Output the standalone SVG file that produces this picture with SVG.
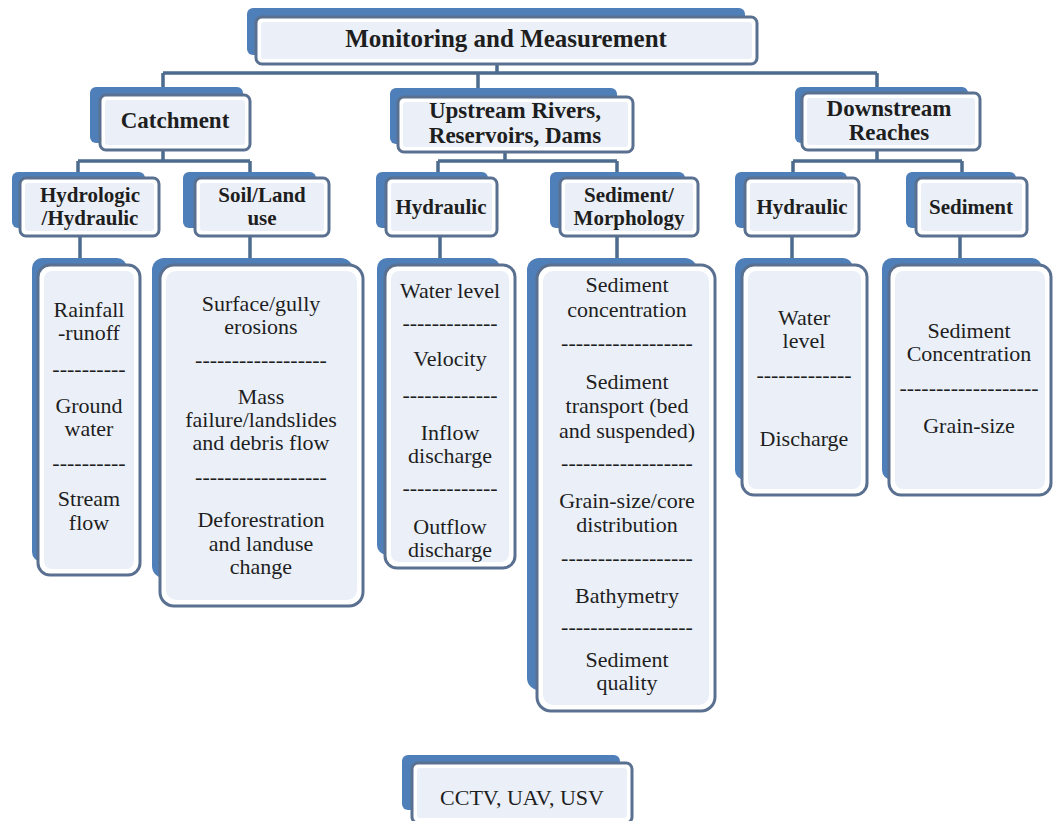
<svg xmlns="http://www.w3.org/2000/svg" width="1054" height="821" viewBox="0 0 1054 821" font-family="'Liberation Serif', 'DejaVu Serif', serif">
<style>
.bk{fill:#4f7fb8}
.fr{fill:#ffffff;stroke:#5a7090;stroke-width:3}
.in{fill:#ebf0f8}
.c{fill:none;stroke:#4c6b8f;stroke-width:3.5}
text{font-family:'Liberation Serif', 'DejaVu Serif', serif;fill:#1e1e1e;text-anchor:middle}
.t1{font-size:25px;font-weight:bold}
.t2{font-size:23px;font-weight:bold}
.t3{font-size:21px;font-weight:bold}
.b{font-size:22px}
</style>
<rect width="1054" height="821" fill="#ffffff"/>
<g id="connectors">
<path class="c" d="M497 64V73M163 73H877M163 73V87M478 73V88M877 73V87"/>
<path class="c" d="M163 150V161M78 161H250M78 161V172M250 161V172"/>
<path class="c" d="M505 152V161M438 161H617M438 161V172M617 161V172"/>
<path class="c" d="M877 150V161M793 161H962M793 161V172M962 161V172"/>
<path class="c" d="M80 236V258M250 236V258M440 236V258M617 236V258M792 236V258M960 236V258"/>
</g>
<g id="title">
<rect class="bk" x="247" y="8" width="498" height="47" rx="6"/>
<rect class="fr" x="256" y="17" width="501" height="47" rx="6"/>
<rect class="in" x="261" y="22" width="491" height="37" rx="3"/>
<text class="t1" x="506" y="47">Monitoring and Measurement</text>
</g>
<g id="catchment">
<rect class="bk" x="90" y="87" width="153" height="56" rx="6"/>
<rect class="fr" x="100" y="95" width="150" height="55" rx="6"/>
<rect class="in" x="105" y="100" width="140" height="45" rx="3"/>
<text class="t2" x="175" y="128">Catchment</text>
</g>
<g id="upstream">
<rect class="bk" x="390" y="88" width="227" height="56" rx="6"/>
<rect class="fr" x="398" y="97" width="235" height="55" rx="6"/>
<rect class="in" x="403" y="102" width="225" height="45" rx="3"/>
<text class="t2" x="515" y="118">Upstream Rivers,</text>
<text class="t2" x="515" y="143">Reservoirs, Dams</text>
</g>
<g id="downstream">
<rect class="bk" x="795" y="87" width="173" height="56" rx="6"/>
<rect class="fr" x="802" y="93" width="178" height="57" rx="6"/>
<rect class="in" x="807" y="98" width="168" height="47" rx="3"/>
<text class="t2" x="889" y="116">Downstream</text>
<text class="t2" x="889" y="140">Reaches</text>
</g>
<g id="hydrologic">
<rect class="bk" x="12" y="172" width="133" height="56" rx="6"/>
<rect class="fr" x="20" y="178" width="139" height="58" rx="6"/>
<rect class="in" x="25" y="183" width="129" height="48" rx="3"/>
<text class="t3" x="90" y="202">Hydrologic</text>
<text class="t3" x="90" y="225">/Hydraulic</text>
</g>
<g id="soil">
<rect class="bk" x="183" y="172" width="133" height="56" rx="6"/>
<rect class="fr" x="195" y="178" width="134" height="58" rx="6"/>
<rect class="in" x="200" y="183" width="124" height="48" rx="3"/>
<text class="t3" x="262" y="202">Soil/Land</text>
<text class="t3" x="262" y="225">use</text>
</g>
<g id="hydraulic-up">
<rect class="bk" x="376" y="172" width="112" height="56" rx="6"/>
<rect class="fr" x="386" y="178" width="111" height="58" rx="6"/>
<rect class="in" x="391" y="183" width="101" height="48" rx="3"/>
<text class="t3" x="441" y="214">Hydraulic</text>
</g>
<g id="sed-morph">
<rect class="bk" x="550" y="172" width="135" height="56" rx="6"/>
<rect class="fr" x="560" y="178" width="138" height="58" rx="6"/>
<rect class="in" x="565" y="183" width="128" height="48" rx="3"/>
<text class="t3" x="629" y="202">Sediment/</text>
<text class="t3" x="629" y="225">Morphology</text>
</g>
<g id="hydraulic-down">
<rect class="bk" x="735" y="172" width="112" height="56" rx="6"/>
<rect class="fr" x="745" y="178" width="114" height="58" rx="6"/>
<rect class="in" x="750" y="183" width="104" height="48" rx="3"/>
<text class="t3" x="802" y="214">Hydraulic</text>
</g>
<g id="sediment">
<rect class="bk" x="906" y="172" width="110" height="56" rx="6"/>
<rect class="fr" x="916" y="178" width="111" height="58" rx="6"/>
<rect class="in" x="921" y="183" width="101" height="48" rx="3"/>
<text class="t3" x="971" y="214">Sediment</text>
</g>
<g id="list-hydrologic">
<rect class="bk" x="32" y="258" width="95" height="304" rx="10"/>
<rect class="fr" x="38" y="265" width="102" height="310" rx="12"/>
<rect class="in" x="44" y="271" width="90" height="298" rx="8"/>
<text class="b" x="89" y="317">Rainfall</text>
<text class="b" x="89" y="340">-runoff</text>
<text class="b" x="89" y="376">----------</text>
<text class="b" x="89" y="413">Ground</text>
<text class="b" x="89" y="436">water</text>
<text class="b" x="89" y="470">----------</text>
<text class="b" x="89" y="506">Stream</text>
<text class="b" x="89" y="530">flow</text>
</g>
<g id="list-soil">
<rect class="bk" x="152" y="258" width="201" height="320" rx="12"/>
<rect class="fr" x="160" y="265" width="203" height="341" rx="14"/>
<rect class="in" x="166" y="271" width="191" height="329" rx="10"/>
<text class="b" x="261" y="311">Surface/gully</text>
<text class="b" x="261" y="334">erosions</text>
<text class="b" x="261" y="367">------------------</text>
<text class="b" x="261" y="404">Mass</text>
<text class="b" x="261" y="427">failure/landslides</text>
<text class="b" x="261" y="450">and debris flow</text>
<text class="b" x="261" y="484">------------------</text>
<text class="b" x="261" y="527">Deforestration</text>
<text class="b" x="261" y="551">and landuse</text>
<text class="b" x="261" y="574">change</text>
</g>
<g id="list-hydraulic-up">
<rect class="bk" x="377" y="258" width="123" height="297" rx="10"/>
<rect class="fr" x="385" y="265" width="130" height="303" rx="12"/>
<rect class="in" x="391" y="271" width="118" height="291" rx="8"/>
<text class="b" x="450" y="298">Water level</text>
<text class="b" x="450" y="330">-------------</text>
<text class="b" x="450" y="366">Velocity</text>
<text class="b" x="450" y="402">-------------</text>
<text class="b" x="450" y="440">Inflow</text>
<text class="b" x="450" y="463">discharge</text>
<text class="b" x="450" y="495">-------------</text>
<text class="b" x="450" y="534">Outflow</text>
<text class="b" x="450" y="557">discharge</text>
</g>
<g id="list-sed-morph">
<rect class="bk" x="527" y="258" width="170" height="432" rx="12"/>
<rect class="fr" x="537" y="265" width="178" height="446" rx="14"/>
<rect class="in" x="543" y="271" width="166" height="434" rx="10"/>
<text class="b" x="627" y="292">Sediment</text>
<text class="b" x="627" y="317">concentration</text>
<text class="b" x="627" y="350">------------------</text>
<text class="b" x="627" y="389">Sediment</text>
<text class="b" x="627" y="413">transport (bed</text>
<text class="b" x="627" y="438">and suspended)</text>
<text class="b" x="627" y="470">------------------</text>
<text class="b" x="627" y="508">Grain-size/core</text>
<text class="b" x="627" y="532">distribution</text>
<text class="b" x="627" y="565">------------------</text>
<text class="b" x="627" y="603">Bathymetry</text>
<text class="b" x="627" y="634">------------------</text>
<text class="b" x="627" y="667">Sediment</text>
<text class="b" x="627" y="690">quality</text>
</g>
<g id="list-hydraulic-down">
<rect class="bk" x="735" y="258" width="118" height="222" rx="10"/>
<rect class="fr" x="742" y="265" width="125" height="230" rx="12"/>
<rect class="in" x="748" y="271" width="113" height="218" rx="8"/>
<text class="b" x="804" y="325">Water</text>
<text class="b" x="804" y="348">level</text>
<text class="b" x="804" y="382">-------------</text>
<text class="b" x="804" y="446">Discharge</text>
</g>
<g id="list-sediment">
<rect class="bk" x="882" y="258" width="160" height="222" rx="10"/>
<rect class="fr" x="889" y="265" width="162" height="230" rx="12"/>
<rect class="in" x="895" y="271" width="150" height="218" rx="8"/>
<text class="b" x="969" y="338">Sediment</text>
<text class="b" x="969" y="361">Concentration</text>
<text class="b" x="969" y="395">-------------------</text>
<text class="b" x="969" y="433">Grain-size</text>
</g>
<g id="cctv">
<rect class="bk" x="402" y="755" width="218" height="55" rx="6"/>
<rect class="fr" x="412" y="763" width="220" height="60" rx="6"/>
<rect class="in" x="417" y="768" width="210" height="50" rx="3"/>
<text class="b" x="522" y="805">CCTV, UAV, USV</text>
</g>
</svg>
